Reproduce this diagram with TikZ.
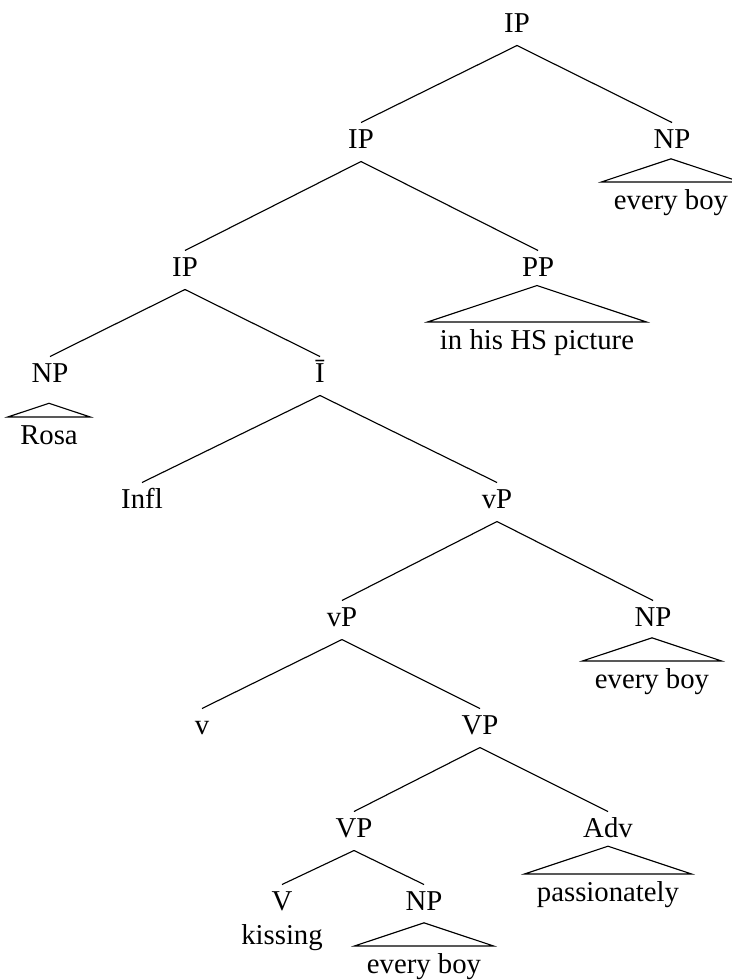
\documentclass[tikz,border=0pt]{standalone}
\usepackage{fontspec}
\setmainfont{Liberation Serif}
\usepackage{tikz}
\usetikzlibrary{calc}

\begin{document}
\begin{tikzpicture}[x=0.4pt, y=-0.4pt, font=\fontsize{11.5}{13}\selectfont,
        cat/.style={anchor=base, inner xsep=2pt, inner ysep=2.4pt, text height=7.6pt, text depth=2.8pt},
        leaf/.style={anchor=north, inner xsep=4.8pt, inner ysep=3pt, text height=7.8pt, text depth=2.5pt},
        branch/.style={line width=0.45pt}]
    \useasboundingbox (0,0) rectangle (732,980);
    % categories
    \node[cat] (ip1)  at (517,  32) {IP};
    \node[cat] (ip2)  at (361, 148) {IP};
    \node[cat] (npA)  at (672, 148) {NP};
    \node[cat] (ip3)  at (185, 276) {IP};
    \node[cat] (pp)   at (538, 276) {PP};
    \node[cat] (npR)  at ( 50, 382) {NP};
    \node[cat] (ibar) at (320, 382) {\=I};
    \node[cat] (infl) at (142, 508) {Infl};
    \node[cat] (vp1)  at (497, 508) {vP};
    \node[cat] (vp2)  at (342, 626) {vP};
    \node[cat] (npB)  at (653, 626) {NP};
    \node[cat] (lv)   at (202, 734) {v};
    \node[cat] (VP1)  at (480, 734) {VP};
    \node[cat] (VP2)  at (354, 837) {VP};
    \node[cat] (adv)  at (608, 837) {Adv};
    \node[cat] (uv)   at (282, 910) {V};
    \node[cat] (npC)  at (424, 910) {NP};
    \node[anchor=base, inner sep=0pt] (kiss) at (282, 944) {kissing};
    % leaves under roofs
    \node[leaf] (lfA)   at (671, 182) {every boy};
    \node[leaf] (lfPP)  at (537, 322) {in his HS picture};
    \node[leaf] (lfR)   at ( 49, 417) {Rosa};
    \node[leaf] (lfB)   at (652, 661) {every boy};
    \node[leaf] (lfAdv) at (608, 874) {passionately};
    \node[leaf] (lfC)   at (424, 946) {every boy};
    % branches
    \draw[branch] (ip1.south)  -- (ip2.north);
    \draw[branch] (ip1.south)  -- (npA.north);
    \draw[branch] (ip2.south)  -- (ip3.north);
    \draw[branch] (ip2.south)  -- (pp.north);
    \draw[branch] (ip3.south)  -- (npR.north);
    \draw[branch] (ip3.south)  -- (ibar.north);
    \draw[branch] (ibar.south) -- (infl.north);
    \draw[branch] (ibar.south) -- (vp1.north);
    \draw[branch] (vp1.south)  -- (vp2.north);
    \draw[branch] (vp1.south)  -- (npB.north);
    \draw[branch] (vp2.south)  -- (lv.north);
    \draw[branch] (vp2.south)  -- (VP1.north);
    \draw[branch] (VP1.south)  -- (VP2.north);
    \draw[branch] (VP1.south)  -- (adv.north);
    \draw[branch] (VP2.south)  -- (uv.north);
    \draw[branch] (VP2.south)  -- (npC.north);
    % roofs
    \foreach \lf in {lfA, lfPP, lfR, lfB, lfAdv, lfC}
        \draw[branch] (\lf.north west) -- ($(\lf.north)!0.333!90:(\lf.north east)$) -- (\lf.north east) -- cycle;
\end{tikzpicture}
\end{document}
